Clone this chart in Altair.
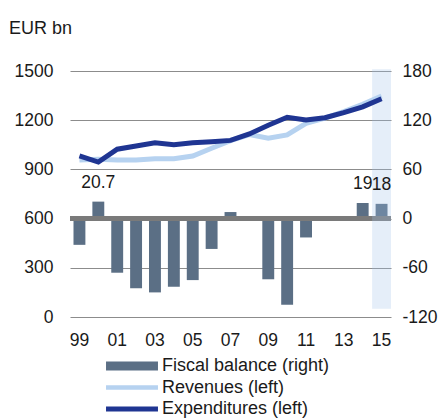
import altair as alt
import pandas as pd

years = ["99", "00", "01", "02", "03", "04", "05", "06", "07", "08",
         "09", "10", "11", "12", "13", "14", "15"]
balance = [-32, 20.7, -66, -85, -90, -83, -75, -37, 8, -1,
           -74, -105, -23, 1, 3, 19, 18]
revenues = [957, 962, 957, 957, 965, 965, 982, 1029, 1075, 1112,
            1090, 1110, 1181, 1212, 1252, 1297, 1348]
expenditures = [982, 945, 1023, 1043, 1063, 1051, 1063, 1069, 1077, 1116,
                1169, 1218, 1201, 1215, 1246, 1281, 1331]
label_years = ["00", "14", "15"]
label_texts = ["20.7", "19", "18"]
tick_years = ["99", "01", "03", "05", "07", "09", "11", "13", "15"]
left_ticks = [0, 300, 600, 900, 1200, 1500]
right_ticks = [-120, -60, 0, 60, 120, 180]
highlight_year = ["15"]
highlight_low = [-110]
highlight_high = [182]
series_names = ["Fiscal balance (right)", "Revenues (left)", "Expenditures (left)"]

FONT = "Liberation Sans"
BAR_C = "#5b6f85"
REV_C = "#b6d2f0"
EXP_C = "#1f3592"

bal_df = pd.DataFrame({"year": years, "balance": balance})
lab_df = pd.DataFrame({"year": label_years, "text": label_texts,
                       "balance": [balance[years.index(y)] for y in label_years]})
hl_df = pd.DataFrame({"year": highlight_year, "lo": highlight_low, "hi": highlight_high})
line_df = pd.concat([
    pd.DataFrame({"year": years, "value": revenues, "series": series_names[1]}),
    pd.DataFrame({"year": years, "value": expenditures, "series": series_names[2]}),
])
leg_df = pd.DataFrame({"series": series_names})

x_enc = alt.X("year:N", sort=years,
              scale=alt.Scale(domain=years, paddingInner=0, paddingOuter=0),
              axis=alt.Axis(values=tick_years, labelAngle=0, ticks=False, domain=False,
                            grid=False, labelPadding=14, title=None))

right_scale = alt.Scale(domain=[-120, 180], nice=False, zero=False)
right_axis = alt.Axis(orient="right", values=right_ticks, grid=False, domain=False,
                      ticks=False, labelPadding=11, title=None,
                      labelExpr="'' + datum.value")

bars = alt.Chart(bal_df).mark_bar(color=BAR_C, width={"band": 0.63}).encode(
    x=x_enc,
    y=alt.Y("balance:Q", scale=right_scale, axis=right_axis),
)
zero_rule = alt.Chart(bal_df).transform_filter(alt.datum.year == "99").mark_rule(
    color="#7a7a7a", strokeWidth=5
).encode(y=alt.datum(0))
highlight = alt.Chart(hl_df).mark_bar(color="#a3c3eb", opacity=0.28, width={"band": 1}).encode(
    x=alt.X("year:N", sort=years),
    y=alt.Y("lo:Q"),
    y2="hi:Q",
)
labels = alt.Chart(lab_df).mark_text(
    font=FONT, fontSize=17.5, color="#1a1a1a", baseline="alphabetic", dy=-14
).encode(
    x=alt.X("year:N", sort=years),
    y=alt.Y("balance:Q"),
    text="text:N",
)
right_group = alt.layer(bars, zero_rule, highlight, labels)

lines = alt.Chart(line_df).mark_line(strokeWidth=5).encode(
    x=alt.X("year:N", sort=years),
    y=alt.Y("value:Q", scale=alt.Scale(domain=[0, 1500], nice=False),
            axis=alt.Axis(orient="left", values=left_ticks, format="d", grid=True,
                          gridColor="#8c8c8c", gridWidth=1, domain=False, ticks=False,
                          labelPadding=17, title=None)),
    color=alt.Color("series:N", scale=alt.Scale(domain=series_names[1:], range=[REV_C, EXP_C]),
                    legend=None),
    detail="series:N",
)

leg = alt.Legend(orient="none", legendX=53, legendY=286, title=None, direction="vertical",
                 padding=0)
legend_layer = alt.Chart(leg_df).mark_point(filled=True, opacity=0).encode(
    color=alt.Color("series:N", scale=alt.Scale(domain=series_names, range=[BAR_C, REV_C, EXP_C]),
                    legend=leg),
    shape=alt.Shape("series:N", scale=alt.Scale(domain=series_names, range=[
        "M-4.33,-0.75H4.33V0.75H-4.33Z",
        "M-4.33,-0.37H4.33V0.37H-4.33Z",
        "M-4.33,-0.4H4.33V0.4H-4.33Z"]),
        legend=leg),
)

chart = alt.layer(right_group, lines, legend_layer).resolve_scale(
    y="independent", color="independent", shape="independent"
).properties(
    width=321, height=246,
    autosize=alt.AutoSizeParams(type="none"),
    title=alt.TitleParams("EUR bn", anchor="start", frame="bounds", font=FONT, fontSize=18,
                          fontWeight="normal", color="#1a1a1a", offset=24, dx=-5),
    padding={"left": 62, "top": 63, "right": 47, "bottom": 102},
).configure_view(stroke=None).configure_axis(
    labelFont=FONT, labelFontSize=17.5, labelColor="#1a1a1a"
).configure_legend(
    labelFont=FONT, labelFontSize=18, labelColor="#1a1a1a", symbolSize=144,
    symbolStrokeWidth=0, symbolOpacity=1, rowPadding=3.5, labelOffset=21, labelLimit=400
)

chart.save("out.html", embed_options={"renderer": "svg", "actions": False})
